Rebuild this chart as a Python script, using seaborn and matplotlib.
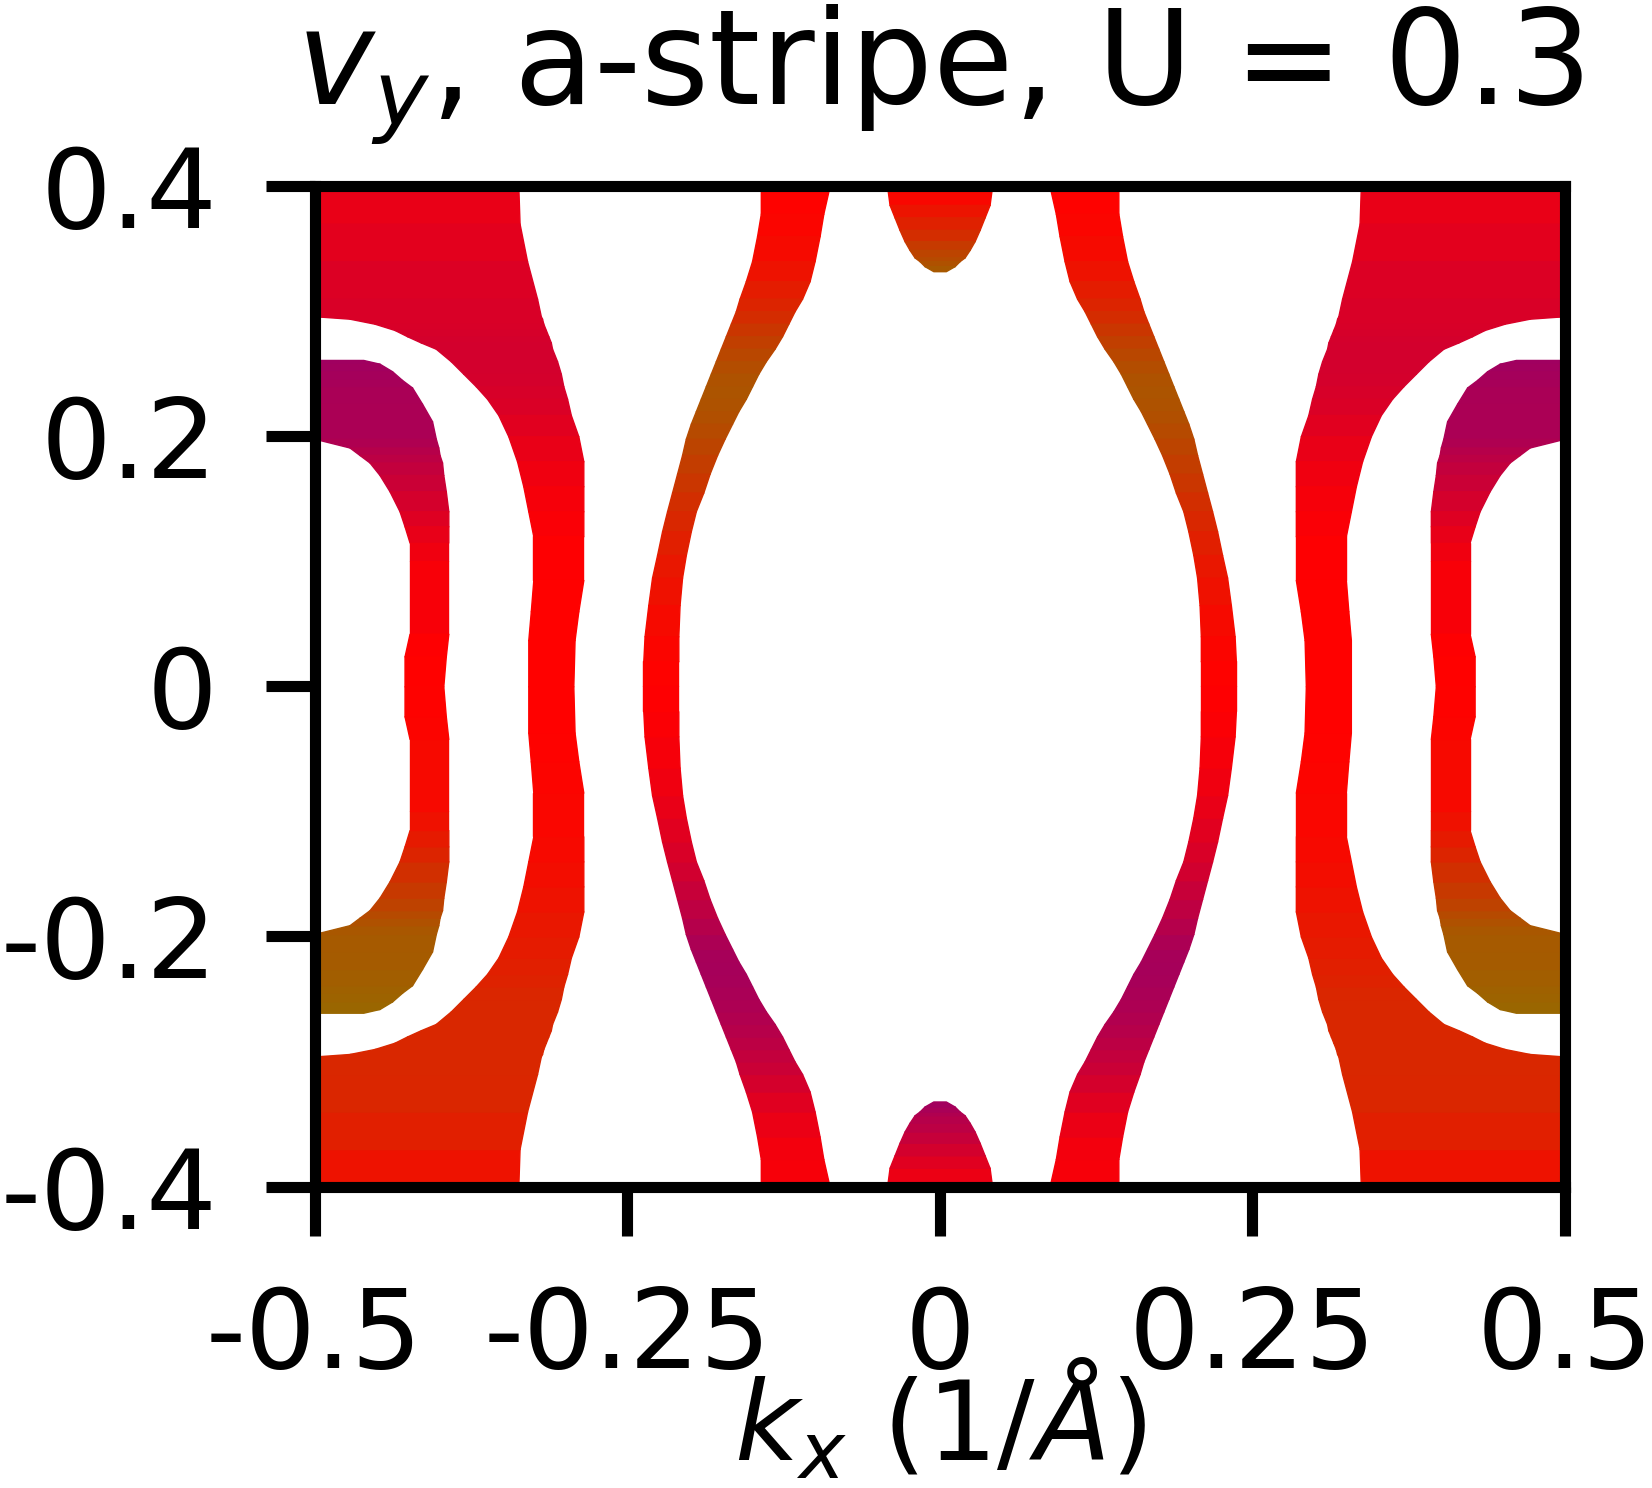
import numpy as np
import matplotlib
matplotlib.use("Agg")
import matplotlib.pyplot as plt
import seaborn as sns
from matplotlib.colors import Normalize

# colour value: -1 purple, 0 red, +1 olive (read by eye from the map)

# outer band, left side, upper half (ky >= 0)
a_ky = [0.400, 0.370, 0.340, 0.310, 0.296, 0.294, 0.290, 0.285, 0.280, 0.275, 0.270, 0.260, 0.250,
        0.240, 0.230, 0.217, 0.200, 0.180, 0.160, 0.140, 0.120, 0.085, 0.060, 0.037, 0.000]
a_left = [-0.500, -0.500, -0.500, -0.500, -0.500, -0.472, -0.452, -0.436, -0.426, -0.415, -0.403, -0.391, -0.381,
          -0.371, -0.362, -0.353, -0.345, -0.338, -0.333, -0.329, -0.325, -0.325, -0.327, -0.329, -0.329]
a_right = [-0.337, -0.336, -0.330, -0.322, -0.319, -0.318, -0.317, -0.315, -0.313, -0.311, -0.310, -0.306, -0.303,
           -0.301, -0.298, -0.295, -0.289, -0.285, -0.285, -0.285, -0.285, -0.285, -0.289, -0.292, -0.293]
a_col_top = [-0.15, -0.2, -0.25, -0.3, -0.3, -0.3, -0.3, -0.32, -0.33, -0.35, -0.35, -0.35, -0.35,
             -0.33, -0.3, -0.28, -0.2, -0.15, -0.1, -0.05, -0.03, 0.0, 0.0, 0.0, 0.0]
a_col_bot = [0.08, 0.2, 0.28, 0.3, 0.3, 0.3, 0.3, 0.3, 0.3, 0.3, 0.3, 0.3, 0.3,
             0.28, 0.25, 0.22, 0.2, 0.15, 0.12, 0.08, 0.05, 0.03, 0.02, 0.0, 0.0]

# inner "C" band, left side, upper half
b_ky = [0.261, 0.258, 0.252, 0.245, 0.239, 0.226, 0.212, 0.198, 0.191, 0.185,
        0.179, 0.169, 0.156, 0.140, 0.128, 0.115, 0.100, 0.042, 0.024, 0.000]
b_left = [-0.500, -0.500, -0.500, -0.500, -0.500, -0.500, -0.500, -0.500, -0.472, -0.464,
          -0.456, -0.448, -0.440, -0.432, -0.428, -0.424, -0.424, -0.424, -0.428, -0.428]
b_right = [-0.461, -0.448, -0.438, -0.430, -0.422, -0.414, -0.406, -0.403, -0.401, -0.400,
           -0.398, -0.397, -0.395, -0.393, -0.393, -0.393, -0.393, -0.393, -0.395, -0.397]
b_col_top = [-0.75, -0.74, -0.72, -0.7, -0.68, -0.66, -0.66, -0.66, -0.6, -0.55,
             -0.5, -0.45, -0.38, -0.3, -0.22, -0.15, -0.1, -0.02, 0.0, 0.0]
b_col_bot = [0.8, 0.8, 0.78, 0.76, 0.74, 0.72, 0.7, 0.7, 0.65, 0.6,
             0.55, 0.48, 0.4, 0.32, 0.24, 0.16, 0.1, 0.04, 0.02, 0.0]

# central lens arc, left side, upper half
c_ky = [0.400, 0.378, 0.360, 0.340, 0.324, 0.310, 0.300, 0.290, 0.280, 0.270, 0.260, 0.250, 0.240, 0.230,
        0.220, 0.210, 0.198, 0.185, 0.170, 0.155, 0.140, 0.124, 0.105, 0.087, 0.065, 0.040, 0.020, 0.000]
c_left = [-0.143, -0.143, -0.146, -0.150, -0.155, -0.160, -0.163, -0.167, -0.171, -0.175, -0.179, -0.183, -0.187, -0.191,
          -0.195, -0.199, -0.203, -0.206, -0.210, -0.214, -0.218, -0.222, -0.226, -0.230, -0.233, -0.236, -0.237, -0.237]
c_right = [-0.088, -0.093, -0.096, -0.100, -0.104, -0.110, -0.116, -0.121, -0.126, -0.132, -0.139, -0.145, -0.150, -0.155,
           -0.161, -0.166, -0.172, -0.178, -0.184, -0.189, -0.195, -0.199, -0.203, -0.206, -0.208, -0.209, -0.209, -0.209]
c_col_top = [0.0, 0.02, 0.05, 0.1, 0.18, 0.25, 0.3, 0.38, 0.45, 0.52, 0.58, 0.62, 0.65, 0.65,
             0.62, 0.6, 0.55, 0.5, 0.45, 0.38, 0.33, 0.27, 0.2, 0.15, 0.1, 0.05, 0.02, 0.0]
c_col_bot = [-0.05, -0.08, -0.12, -0.2, -0.3, -0.38, -0.45, -0.5, -0.55, -0.6, -0.63, -0.66, -0.68, -0.7,
             -0.7, -0.68, -0.62, -0.55, -0.48, -0.4, -0.33, -0.27, -0.2, -0.15, -0.1, -0.05, -0.02, 0.0]

# small pocket at kx = 0 (half width), upper one
d_ky = [0.400, 0.385, 0.375, 0.365, 0.356, 0.349, 0.343, 0.340, 0.336, 0.332]
d_half = [0.042, 0.040, 0.036, 0.032, 0.028, 0.024, 0.020, 0.016, 0.012, 0.005]
d_col_top = [0.0, 0.1, 0.2, 0.3, 0.4, 0.5, 0.55, 0.6, 0.65, 0.72]
d_col_bot = [-0.1, -0.2, -0.3, -0.4, -0.5, -0.55, -0.6, -0.65, -0.7, -0.75]

xticks = [-0.5, -0.25, 0, 0.25, 0.5]
xtick_labels = ["-0.5", "-0.25", "0", "0.25", "0.5"]
yticks = [0.4, 0.2, 0, -0.2, -0.4]
ytick_labels = ["0.4", "0.2", "0", "-0.2", "-0.4"]

sns.set_style("white")
plt.rcParams['font.family'] = ['DejaVu Sans']
plt.rcParams['mathtext.fontset'] = 'dejavusans'
plt.rcParams['text.color'] = 'black'
plt.rcParams['axes.labelcolor'] = 'black'
plt.rcParams['xtick.color'] = 'black'
plt.rcParams['ytick.color'] = 'black'

cmap = sns.blend_palette(["#800080", "#ff0000", "#808000"], as_cmap=True)
norm = Normalize(-1, 1)


def draw_band(ax, ky, left, right, cols):
    ky = np.asarray(ky)
    left = np.asarray(left)
    right = np.asarray(right)
    for i in range(len(ky) - 1):
        col = cmap(norm((cols[i] + cols[i + 1]) / 2))
        ax.fill_betweenx(ky[i:i + 2], left[i:i + 2], right[i:i + 2],
                         facecolor=col, edgecolor=col, lw=1.0)


def draw_all(ax, ky, left, right, col_top, col_bot):
    ky = np.asarray(ky)
    left = np.asarray(left)
    right = np.asarray(right)
    for sign, cols in [(1, col_top), (-1, col_bot)]:
        draw_band(ax, sign * ky, left, right, cols)      # left side
        draw_band(ax, sign * ky, -right, -left, cols)    # mirrored right side


fig = plt.figure(figsize=(16.52, 14.88), dpi=100)
ax = fig.add_axes([0.1904, 0.2026, 0.7567, 0.6723])

draw_all(ax, a_ky, a_left, a_right, a_col_top, a_col_bot)
draw_all(ax, b_ky, b_left, b_right, b_col_top, b_col_bot)
draw_all(ax, c_ky, c_left, c_right, c_col_top, c_col_bot)
for sign, cols in [(1, d_col_top), (-1, d_col_bot)]:
    draw_band(ax, sign * np.asarray(d_ky), -np.asarray(d_half), np.asarray(d_half), cols)

ax.set_xlim(-0.5, 0.5)
ax.set_ylim(-0.4, 0.4)
ax.set_xticks(xticks)
ax.set_xticklabels(xtick_labels)
ax.set_yticks(yticks)
ax.set_yticklabels(ytick_labels)
ax.tick_params(bottom=True, left=True, top=False, right=False, direction="out",
               length=35, width=8, pad=35, labelsize=80, color="black", labelcolor="black")
for sp in ax.spines.values():
    sp.set_linewidth(8)
    sp.set_color("black")
ax.set_xlabel(r"$k_x$ $(1/\AA)$", fontsize=80, labelpad=-23, color="black")
ax.set_title(r"$v_y$, a-stripe, U = 0.3", fontsize=94, pad=59, color="black")

fig.savefig("out.png", dpi=100)
